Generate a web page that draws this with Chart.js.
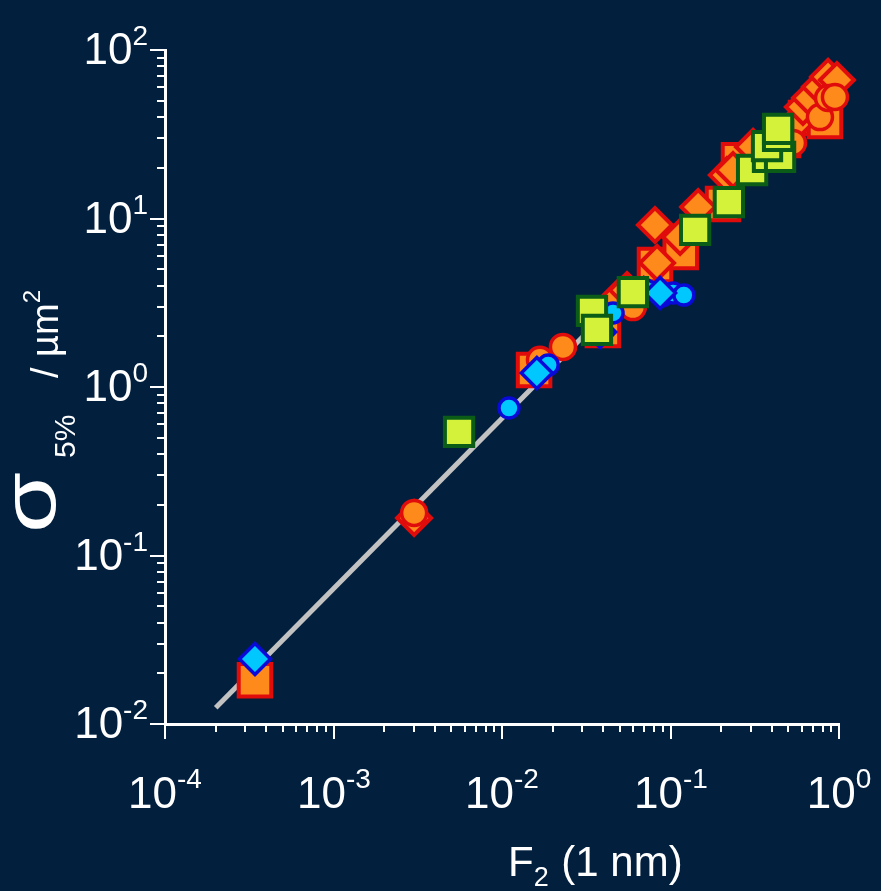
<!DOCTYPE html>
<html>
<head>
<meta charset="utf-8">
<script src="https://cdn.jsdelivr.net/npm/chart.js@4.4.1/dist/chart.umd.min.js"></script>
<style>
  html, body { margin: 0; padding: 0; background: #021f3e; overflow: hidden; }
  canvas { display: block; }
</style>
</head>
<body>
<canvas id="chart" width="881" height="891"></canvas>
<script>
// ---- measured values: F2 (1 nm) vs sigma 5% (µm²) ----
const orangeSquareX = [3.42e-4, 0.0155, 0.0397, 0.0809, 0.115, 0.205, 0.255, 0.466, 0.637, 0.826];
const orangeSquareY = [0.0182, 1.26, 2.18, 5.30, 6.33, 12.2, 22.2, 29.2, 39.5, 37.9];

const orangeDiamondX = [0.00301, 0.0487, 0.0552, 0.0809, 0.0832, 0.114, 0.146, 0.216, 0.235, 0.309, 0.564, 0.611, 0.673, 0.771, 0.861, 0.972];
const orangeDiamondY = [0.167, 3.38, 3.76, 9.15, 5.45, 7.77, 11.7, 18.1, 19.4, 26.6, 37.4, 45.9, 51.9, 60.3, 69.2, 66.4];

const orangeCircleX = [0.00301, 0.0168, 0.0230, 0.0598, 0.533, 0.771, 0.861, 0.946];
const orangeCircleY = [0.179, 1.45, 1.73, 2.98, 28.1, 40.0, 51.9, 52.6];

const cyanCircleX = [0.0110, 0.0188, 0.0456, 0.0891, 0.1035, 0.120];
const cyanCircleY = [0.750, 1.35, 2.75, 3.47, 3.61, 3.51];

const cyanDiamondX = [3.42e-4, 0.0161, 0.0382, 0.0867];
const cyanDiamondY = [0.0243, 1.21, 2.12, 3.61];

const cyanTriangleX = [0.0776];
const cyanTriangleY = [3.76];

const limeSquareX = [0.00556, 0.0342, 0.0366, 0.0598, 0.140, 0.222, 0.305, 0.379, 0.447, 0.374, 0.435, 0.435];
const limeSquareY = [0.541, 2.83, 2.18, 3.66, 8.55, 12.5, 19.4, 23.2, 23.2, 26.9, 30.9, 34.0];

// power-law fit drawn as a straight line on log-log axes
const fitX = [2e-4, 0.9];
const fitY = [0.0125, 61.5];

// decade exponents used for the axis labels
const xTickExponents = [-4, -3, -2, -1, 0];
const yTickExponents = [-2, -1, 0, 1, 2];

// ---- helpers ----
const BG = '#021f3e';
const pts = (xs, ys) => xs.map((x, i) => ({ x, y: ys[i] }));

function decadeTicks(exps) {
  const vals = [];
  for (let i = 0; i < exps.length - 1; i++) {
    for (let m = 1; m <= 9; m++) vals.push(m * Math.pow(10, exps[i]));
  }
  vals.push(Math.pow(10, exps[exps.length - 1]));
  return vals.map(v => ({ value: v }));
}

const ORANGE = '#ff8a1c', RED = '#e00c0c';
const CYAN = '#00c8ff', BLUE = '#0a0ad8';
const LIME = '#d5f23a', GREEN = '#0b5c16';

function markerSet(data, style, r, fill, edge, bw, rotation) {
  return {
    type: 'scatter', data, pointStyle: style, pointRadius: r, pointHoverRadius: r,
    pointRotation: rotation || 0,
    backgroundColor: fill, borderColor: edge, borderWidth: bw,
    pointBackgroundColor: fill, pointBorderColor: edge, pointBorderWidth: bw,
    showLine: false, clip: false
  };
}

// ---- plugins: background, major ticks, exponent labels, axis titles ----
const paintBackground = {
  id: 'paintBackground',
  beforeDraw(chart) {
    const ctx = chart.ctx;
    ctx.save();
    ctx.fillStyle = BG;
    ctx.fillRect(0, 0, chart.width, chart.height);
    ctx.restore();
  }
};

const FONT = 'px "Liberation Sans", Arial, sans-serif';

function drawRuns(ctx, x, runs) {
  // runs: [{text, size, base}] laid out left to right from x
  for (const r of runs) {
    ctx.font = r.size + FONT;
    ctx.fillText(r.text, x, r.base);
    x += ctx.measureText(r.text).width + (r.gap || 0);
  }
  return x;
}
function runsWidth(ctx, runs) {
  let w = 0;
  for (const r of runs) {
    ctx.font = r.size + FONT;
    w += ctx.measureText(r.text).width + (r.gap || 0);
  }
  return w;
}

const axisDecor = {
  id: 'axisDecor',
  afterDraw(chart) {
    const ctx = chart.ctx;
    const xs = chart.scales.x, ys = chart.scales.y;
    const ca = chart.chartArea;
    ctx.save();
    ctx.strokeStyle = '#ffffff';
    ctx.fillStyle = '#ffffff';
    ctx.lineWidth = 2;
    ctx.textBaseline = 'alphabetic';
    ctx.textAlign = 'left';

    // x decades: long ticks + 10^n labels
    for (const e of xTickExponents) {
      const px = Math.round(xs.getPixelForValue(Math.pow(10, e)));
      ctx.beginPath();
      ctx.moveTo(px, ca.bottom);
      ctx.lineTo(px, ca.bottom + 15);
      ctx.stroke();
      const runs = [
        { text: '10', size: 44, base: ca.bottom + 84 },
        { text: String(e), size: 28, base: ca.bottom + 64 }
      ];
      const w = runsWidth(ctx, runs);
      drawRuns(ctx, px - w / 2, runs);
    }

    // y decades: long ticks + 10^n labels
    for (const e of yTickExponents) {
      const py = Math.round(ys.getPixelForValue(Math.pow(10, e)));
      ctx.beginPath();
      ctx.moveTo(ca.left - 15, py);
      ctx.lineTo(ca.left, py);
      ctx.stroke();
      const runs = [
        { text: '10', size: 44, base: py + 14 },
        { text: String(e), size: 28, base: py - 5 }
      ];
      const w = runsWidth(ctx, runs);
      drawRuns(ctx, ca.left - 17 - w, runs);
    }

    // x title: F2 (1 nm)
    drawRuns(ctx, 508, [
      { text: 'F', size: 42, base: 876 },
      { text: '2', size: 27, base: 886, gap: 1 },
      { text: ' (1 nm)', size: 42, base: 876 }
    ]);

    // y title: sigma 5% / µm², rotated
    ctx.rotate(-Math.PI / 2);
    ctx.save();
    ctx.translate(-533, 0);
    ctx.scale(1.3, 1);
    drawRuns(ctx, 0, [{ text: 'σ', size: 76, base: 55 }]);
    ctx.restore();
    drawRuns(ctx, -458, [{ text: '5%', size: 30, base: 75 }]);
    drawRuns(ctx, -378, [
      { text: '/ µm', size: 38, base: 58 },
      { text: '2', size: 24, base: 40 }
    ]);
    ctx.restore();
  }
};

// ---- chart ----
new Chart(document.getElementById('chart'), {
  type: 'scatter',
  data: {
    datasets: [
      markerSet(pts(limeSquareX, limeSquareY), 'rect', 20, LIME, GREEN, 4),
      markerSet(pts(cyanDiamondX, cyanDiamondY), 'rectRot', 15.5, CYAN, BLUE, 3.5),
      markerSet(pts(cyanTriangleX, cyanTriangleY), 'triangle', 14, CYAN, BLUE, 3.5, 90),
      markerSet(pts(cyanCircleX, cyanCircleY), 'circle', 10, CYAN, BLUE, 3.5),
      markerSet(pts(orangeCircleX, orangeCircleY), 'circle', 12.5, ORANGE, RED, 3.5),
      markerSet(pts(orangeDiamondX, orangeDiamondY), 'rectRot', 17, ORANGE, RED, 4),
      markerSet(pts(orangeSquareX, orangeSquareY), 'rect', 23, ORANGE, RED, 4),
      {
        type: 'line', data: pts(fitX, fitY),
        borderColor: '#c2c2c2', borderWidth: 5, borderCapStyle: 'butt',
        pointRadius: 0, fill: false, tension: 0, clip: false
      }
    ]
  },
  options: {
    responsive: false,
    animation: false,
    events: [],
    layout: { padding: { left: 0, top: 50, right: 42, bottom: 0 } },
    plugins: { legend: { display: false }, tooltip: { enabled: false } },
    scales: {
      x: {
        type: 'logarithmic', position: 'bottom',
        min: 1e-4, max: 1,
        afterBuildTicks: s => { s.ticks = decadeTicks(xTickExponents); },
        afterFit: s => { s.height = 167; },
        ticks: { display: false },
        grid: { drawOnChartArea: false, drawTicks: true, tickLength: 8, color: '#ffffff', lineWidth: 2 },
        border: { display: true, color: '#ffffff', width: 3 }
      },
      y: {
        type: 'logarithmic', position: 'left',
        min: 1e-2, max: 100,
        afterBuildTicks: s => { s.ticks = decadeTicks(yTickExponents); },
        afterFit: s => { s.width = 165; },
        ticks: { display: false },
        grid: { drawOnChartArea: false, drawTicks: true, tickLength: 8, color: '#ffffff', lineWidth: 2 },
        border: { display: true, color: '#ffffff', width: 3 }
      }
    }
  },
  plugins: [paintBackground, axisDecor]
});
</script>
</body>
</html>
